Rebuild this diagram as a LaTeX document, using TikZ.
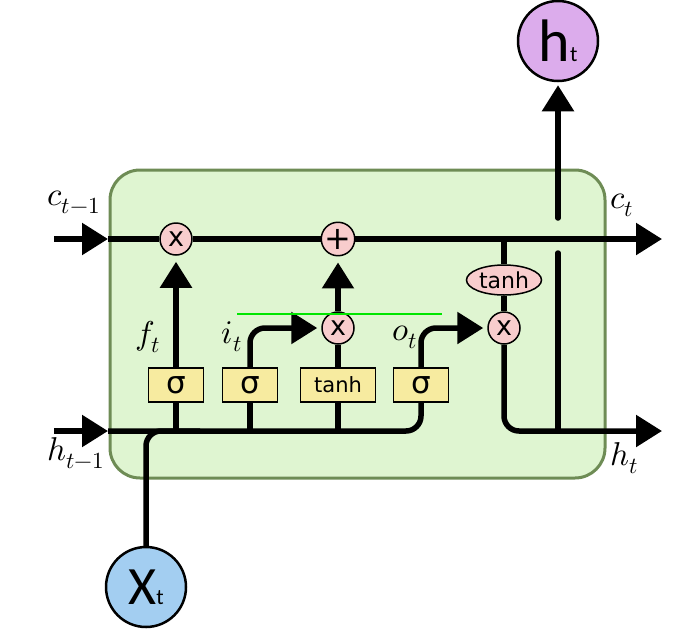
\documentclass[tikz,border=0pt]{standalone}
\usepackage{fontspec}
\usepackage{unicode-math}
\newfontfamily\dvs{DejaVu Sans}
\newfontfamily\carl{Carlito}
\usetikzlibrary{arrows.meta,shapes.geometric}
\definecolor{cellfill}{RGB}{223,245,209}
\definecolor{celledge}{RGB}{110,140,85}
\definecolor{gatefill}{RGB}{247,235,160}
\definecolor{opfill}{RGB}{248,205,205}
\definecolor{hfill}{RGB}{220,172,236}
\definecolor{xfill}{RGB}{163,206,241}
\definecolor{glow}{RGB}{0,230,0}
\begin{document}
\begin{tikzpicture}[x=1pt,y=-1pt,
  wire/.style={line width=5.5pt,black},
  arr/.style={wire,-{Triangle[length=26pt,width=31pt]}},
  gatebox/.style={draw,line width=1.5pt,fill=gatefill,minimum height=34pt,inner sep=0pt,font=\dvs\fontsize{31}{32}\selectfont},
  op/.style={circle,draw,line width=1.5pt,fill=opfill,minimum size=32pt,inner sep=0pt,font=\dvs\fontsize{27}{28}\selectfont},
  lbl/.style={inner sep=0pt,font=\fontsize{33}{38}\selectfont},
  io/.style={circle,draw,line width=2.5pt,minimum size=80pt,inner sep=0pt}
]
\path[use as bounding box] (0,0) rectangle (679,629);
% cell
\draw[fill=cellfill,draw=celledge,line width=3pt,rounded corners=30pt] (110,170) rectangle (605,478);

% coordinates
\coordinate (cin) at (54,239);
\coordinate (cl) at (108,239);
\coordinate (cout) at (662,239);
\coordinate (cb) at (504,239);
\coordinate (hin) at (54,431);
\coordinate (hl) at (108,431);
\coordinate (hout) at (662,431);
\coordinate (xj) at (200,431);
\coordinate (hup) at (558,431);
\coordinate (hgap1) at (558,253);
\coordinate (hgap2) at (558,218);
\coordinate (g1) at (237,314);
\coordinate (g2) at (442,314);

% nodes
\node[op] (fx) at (176,239) {x};
\node[op,font=\dvs\fontsize{32}{32}\selectfont] (plus) at (338,239) {+};
\node[op] (ix) at (338,328) {x};
\node[op] (ox) at (504,328) {x};
\node[ellipse,draw,line width=1.5pt,fill=opfill,minimum width=75pt,minimum height=30pt,inner sep=0pt,font=\dvs\fontsize{22}{24}\selectfont] (th) at (504,280) {tanh};
\node[gatebox,minimum width=55pt] (s1) at (176,385) {σ};
\node[gatebox,minimum width=55pt] (s2) at (250,385) {σ};
\node[gatebox,minimum width=75pt,font=\dvs\fontsize{21}{24}\selectfont] (tb) at (338,385) {tanh};
\node[gatebox,minimum width=55pt] (s4) at (421,385) {σ};
\node[io,fill=hfill] (ht) at (558,41) {\carl\fontsize{60}{62}\selectfont h\fontsize{22}{24}\selectfont t};
\node[io,fill=xfill] (xt) at (146,587) {\carl\fontsize{54}{56}\selectfont X\fontsize{22}{24}\selectfont t};

% labels
\node[lbl] (lc0) at (74,202) {$c_{t-1}$};
\node[lbl] (lh0) at (76,453) {$h_{t-1}$};
\node[lbl] (lc1) at (622,205) {$c_t$};
\node[lbl] (lh1) at (624,458) {$h_t$};
\node[lbl] (lf) at (148,337) {$f_t$};
\node[lbl] (li) at (232,337) {$i_t$};
\node[lbl] (lo) at (405,337) {$o_t$};

% cell state line
\draw[arr] (cin) -- (cl);
\draw[wire] (cl) -- (fx);
\draw[wire] (fx) -- (plus);
\draw[arr] (plus) -- (cout);

% hidden line
\draw[arr] (hin) -- (hl);
\draw[wire,rounded corners=15pt] (hl) -| (s4.south);
\draw[wire,rounded corners=15pt] (xt.north) |- (xj);
\draw[wire] (s1.south) -- (s1.south |- hl);
\draw[wire] (s2.south) -- (s2.south |- hl);
\draw[wire] (tb.south) -- (tb.south |- hl);

% gates
\draw[arr,shorten >=6pt] (s1.north) -- (fx.south);
\draw[arr,shorten >=6pt] (ix.north) -- (plus.south);
\draw[wire] (tb.north) -- (ix.south);
\draw[arr,rounded corners=15pt,shorten >=4pt] (s2.north) |- (ix.west);
\draw[arr,rounded corners=15pt,shorten >=4pt] (s4.north) |- (ox.west);

% output
\draw[wire] (cb) -- (th.north);
\draw[wire] (th.south) -- (ox.north);
\draw[arr,rounded corners=15pt] (ox.south) |- (hout);
\draw[wire,line cap=round] (hup) -- (hgap1);
\draw[arr,line cap=round,shorten >=3pt] (hgap2) -- (ht.south);

% green line
\draw[glow,line width=2pt] (g1) -- (g2);
\end{tikzpicture}
\end{document}
